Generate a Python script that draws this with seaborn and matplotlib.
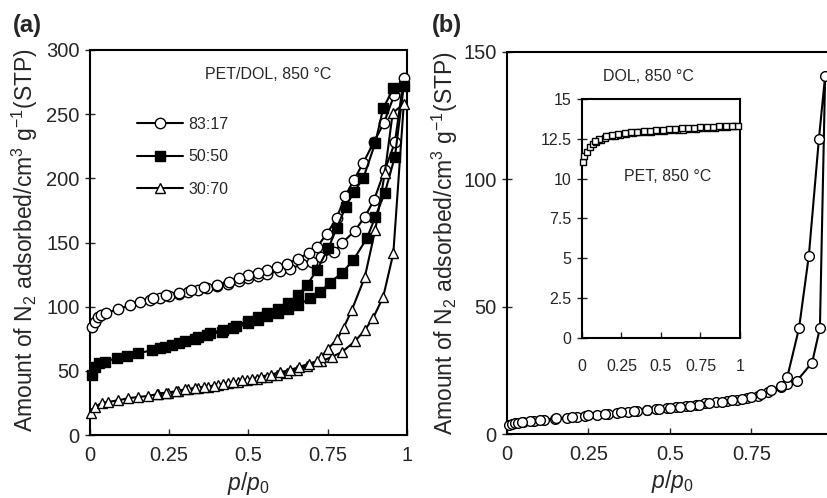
import matplotlib
matplotlib.use("Agg")
import matplotlib.pyplot as plt
import seaborn as sns

# ---- panel (a): PET/DOL blends, adsorption + desorption branches ----
p_ads_8317 = [0.006, 0.016, 0.025, 0.035, 0.05, 0.088, 0.126, 0.158, 0.19, 0.22, 0.25, 0.28,
              0.31, 0.34, 0.37, 0.40, 0.435, 0.47, 0.50, 0.53, 0.56, 0.60, 0.63, 0.67, 0.70,
              0.73, 0.77, 0.795, 0.835, 0.867, 0.896, 0.93, 0.962, 0.99]
v_ads_8317 = [84, 88, 92, 93.5, 95, 98, 101, 103.5, 105, 107, 108, 110,
              111.5, 113, 114.5, 116, 118, 120, 122, 124, 125.5, 128, 129.5, 133, 135,
              138.5, 142.5, 149.5, 159, 170, 183, 206.5, 228, 278]
p_des_8317 = [0.96, 0.927, 0.895, 0.862, 0.833, 0.805, 0.778, 0.748, 0.716, 0.69, 0.655, 0.62,
              0.59, 0.56, 0.53, 0.50, 0.47, 0.44, 0.40, 0.36, 0.32, 0.28, 0.24, 0.20]
v_des_8317 = [265, 243, 228, 212, 199, 186, 169, 157, 146.5, 141.5, 137.5, 133,
              131, 128.5, 126, 124.5, 122, 119.5, 117, 115, 113, 111, 109, 107]

p_ads_5050 = [0.006, 0.016, 0.03, 0.047, 0.085, 0.117, 0.15, 0.195, 0.236, 0.28, 0.33, 0.37,
              0.415, 0.45, 0.50, 0.53, 0.56, 0.594, 0.625, 0.656, 0.694, 0.726, 0.757, 0.795,
              0.83, 0.874, 0.90, 0.93, 0.962, 0.99]
v_ads_5050 = [46.8, 53, 56, 57, 60, 61.6, 63.6, 66, 68.6, 71.7, 75, 78,
              80.5, 83, 87, 90, 92.5, 95, 98, 101, 106.5, 111.6, 118.6, 126.4,
              136, 153.5, 170, 188.6, 217, 272]
p_des_5050 = [0.957, 0.925, 0.90, 0.862, 0.833, 0.807, 0.778, 0.752, 0.716, 0.685, 0.656, 0.625,
              0.594, 0.56, 0.53, 0.50, 0.46, 0.42, 0.38, 0.34, 0.30, 0.26, 0.22]
v_des_5050 = [270, 254.6, 227.6, 200, 189.6, 178, 161, 145.6, 128.6, 117, 109, 103,
              98, 95, 92, 89, 85, 82, 79.5, 76.5, 73.5, 70.5, 68]

p_ads_3070 = [0.003, 0.016, 0.037, 0.056, 0.088, 0.12, 0.15, 0.183, 0.215, 0.246, 0.277, 0.31,
              0.34, 0.372, 0.404, 0.435, 0.468, 0.495, 0.527, 0.558, 0.59, 0.62, 0.652, 0.684,
              0.73, 0.763, 0.795, 0.836, 0.867, 0.893, 0.925, 0.957, 0.99]
v_ads_3070 = [17, 21.8, 25, 25.7, 27, 28.6, 29.6, 30.4, 32, 32.7, 34, 35.5,
              36.6, 37.4, 39, 40.5, 41.5, 42.5, 44, 45.5, 47, 48.5, 51, 53.5,
              57.5, 60.8, 64.7, 73, 81.8, 91, 107.6, 141.6, 258]
p_des_3070 = [0.955, 0.93, 0.90, 0.867, 0.826, 0.80, 0.78, 0.75, 0.73, 0.715, 0.69, 0.66,
              0.63, 0.60, 0.57, 0.54, 0.51, 0.48, 0.45, 0.42, 0.39, 0.36, 0.33, 0.30, 0.27,
              0.24, 0.21]
v_des_3070 = [251, 204, 160, 123, 97.4, 83.4, 74.8, 67, 61, 57.5, 55.5, 53,
              50.5, 49, 47, 45.5, 44, 42.5, 41, 40, 38.5, 37.5, 36.5, 35.5, 34,
              33, 32]

# ---- panel (b): DOL main plot ----
p_ads_dol = [0.006, 0.015, 0.025, 0.035, 0.05, 0.083, 0.115, 0.147, 0.184, 0.215, 0.24, 0.276,
             0.31, 0.337, 0.37, 0.40, 0.43, 0.457, 0.49, 0.52, 0.55, 0.58, 0.607, 0.64,
             0.674, 0.705, 0.735, 0.77, 0.80, 0.84, 0.86, 0.89, 0.936, 0.96, 0.976]
v_ads_dol = [3.5, 4.0, 4.3, 4.5, 4.8, 5.1, 5.5, 5.9, 6.3, 6.7, 7.0, 7.6,
             8.0, 8.3, 8.7, 9.0, 9.4, 9.8, 10.2, 10.6, 11.0, 11.5, 12.0, 12.5,
             13.0, 13.5, 14.0, 15.0, 16.3, 18.5, 19.5, 21, 28, 41.6, 140.6]
p_des_dol = [0.957, 0.926, 0.896, 0.86, 0.84, 0.81, 0.78, 0.75, 0.72, 0.69, 0.66, 0.62,
             0.59, 0.56, 0.53, 0.50, 0.465, 0.43, 0.39, 0.35, 0.30, 0.25, 0.20, 0.15,
             0.10, 0.07, 0.045]
v_des_dol = [116, 70, 41.6, 22.4, 19, 17.2, 15.8, 14.6, 13.8, 13.2, 12.6, 12.0,
             11.5, 11.1, 10.7, 10.3, 9.9, 9.5, 9.0, 8.6, 8.0, 7.3, 6.7, 6.1,
             5.5, 5.1, 4.8]

# ---- panel (b) inset: PET ----
p_ads_pet = [0.006, 0.015, 0.03, 0.05, 0.07, 0.088, 0.12, 0.146, 0.18, 0.21, 0.24, 0.28,
             0.32, 0.36, 0.40, 0.44, 0.48, 0.52, 0.56, 0.60, 0.64, 0.68, 0.72, 0.76,
             0.80, 0.84, 0.88, 0.92, 0.96, 0.99]
v_ads_pet = [11.05, 11.4, 11.7, 12.0, 12.15, 12.3, 12.45, 12.55, 12.65, 12.7, 12.75, 12.8,
             12.85, 12.9, 12.92, 12.95, 12.98, 13.0, 13.03, 13.05, 13.08, 13.1, 13.13, 13.15,
             13.18, 13.2, 13.23, 13.26, 13.28, 13.3]
p_des_pet = [0.95, 0.91, 0.87, 0.83, 0.79, 0.75, 0.71, 0.67, 0.63, 0.59, 0.55, 0.51,
             0.47, 0.43, 0.39, 0.35, 0.31, 0.27, 0.23, 0.19, 0.15, 0.11, 0.08]
v_des_pet = [13.32, 13.3, 13.28, 13.26, 13.24, 13.22, 13.2, 13.18, 13.15, 13.12, 13.1, 13.07,
             13.04, 13.0, 12.97, 12.93, 12.9, 12.85, 12.8, 12.72, 12.65, 12.5, 12.35]

x_ticks = [0, 0.25, 0.5, 0.75, 1]
x_tick_labels = ["0", "0.25", "0.5", "0.75", "1"]
inset_y_ticks = [0, 2.5, 5, 7.5, 10, 12.5, 15]
inset_y_labels = ["0", "2.5", "5", "7.5", "10", "12.5", "15"]

sns.set_style("ticks")
plt.rcParams["font.family"] = ["Liberation Sans", "DejaVu Sans"]
plt.rcParams["mathtext.fontset"] = "custom"
plt.rcParams["mathtext.rm"] = "Liberation Sans"
plt.rcParams["mathtext.it"] = "Liberation Sans:italic"
plt.rcParams["axes.linewidth"] = 1.5

YLABEL = "Amount of N$_2$ adsorbed/cm$^3$ g$^{-1}$(STP)"
TICK_FS = 14.5
LABEL_FS = 16.5
NOTE_FS = 11.5


def isotherm(ax, p_ads, v_ads, p_des, v_des, marker, face, ms, label=None, lw=1.5):
    sns.lineplot(x=p_ads + p_des, y=v_ads + v_des, sort=False, estimator=None, ax=ax,
                 color="black", lw=lw, marker=marker, markersize=ms,
                 markerfacecolor=face, markeredgecolor="black", markeredgewidth=1,
                 label=label, clip_on=False, zorder=3)


def style_axes(ax, fs=TICK_FS, xpad=8, ypad=4):
    for s in ax.spines.values():
        s.set_visible(True)
        s.set_linewidth(1.5)
        s.set_color("black")
    ax.tick_params(axis="x", direction="in", length=4, width=1, labelsize=fs, pad=xpad)
    ax.tick_params(axis="y", direction="inout", length=7, width=1, labelsize=fs, pad=ypad)


fig = plt.figure(figsize=(8.27, 4.98), dpi=100)

# (a)
ax1 = fig.add_axes([0.1088, 0.1265, 0.3833, 0.7731])
isotherm(ax1, p_ads_8317, v_ads_8317, p_des_8317, v_des_8317, "o", "white", 7.5, "83:17")
isotherm(ax1, p_ads_5050, v_ads_5050, p_des_5050, v_des_5050, "s", "black", 7, "50:50")
isotherm(ax1, p_ads_3070, v_ads_3070, p_des_3070, v_des_3070, "^", "white", 7.5, "30:70")
ax1.set_xlim(0, 1)
ax1.set_ylim(0, 300)
ax1.set_xticks(x_ticks, x_tick_labels)
ax1.set_yticks(range(0, 301, 50))
style_axes(ax1)
ax1.set_xlabel("$\\it{p}/\\it{p}_0$", fontsize=LABEL_FS)
ax1.xaxis.set_label_coords(0.5, -0.09)
ax1.set_ylabel(YLABEL, fontsize=LABEL_FS)
ax1.yaxis.set_label_coords(-0.158, 0.505)
ax1.text(0.5615, 0.937, "PET/DOL, 850 °C", transform=ax1.transAxes, ha="center", va="center",
         fontsize=NOTE_FS)
ax1.legend(loc="upper left", bbox_to_anchor=(0.148, 0.827), frameon=False, fontsize=NOTE_FS,
           handlelength=2.9, handletextpad=0.3, labelspacing=1.1, borderpad=0,
           borderaxespad=0)

# (b)
ax2 = fig.add_axes([0.613, 0.1285, 0.3942, 0.7671])
isotherm(ax2, p_ads_dol, v_ads_dol, p_des_dol, v_des_dol, "o", "white", 7)
ax2.set_xlim(0, 1)
ax2.set_ylim(0, 150)
ax2.set_xticks(x_ticks, x_tick_labels)
ax2.set_yticks([0, 50, 100, 150])
style_axes(ax2)
ax2.set_xlabel("$\\it{p}/\\it{p}_0$", fontsize=LABEL_FS)
ax2.xaxis.set_label_coords(0.508, -0.09)
ax2.set_ylabel(YLABEL, fontsize=LABEL_FS)
ax2.yaxis.set_label_coords(-0.144, 0.5)
ax2.text(0.4325, 0.935, "DOL, 850 °C", transform=ax2.transAxes, ha="center", va="center",
         fontsize=NOTE_FS)

# inset
ax3 = fig.add_axes([0.7037, 0.3213, 0.1911, 0.4799])
isotherm(ax3, p_ads_pet, v_ads_pet, p_des_pet, v_des_pet, "s", "white", 4.5, lw=1)
ax3.set_xlim(0, 1)
ax3.set_ylim(0, 15)
ax3.set_xticks(x_ticks, x_tick_labels)
ax3.set_yticks(inset_y_ticks, inset_y_labels)
style_axes(ax3, fs=11.5, xpad=15, ypad=4)
ax3.set_xlabel("")
ax3.set_ylabel("")
ax3.text(0.544, 0.674, "PET, 850 °C", transform=ax3.transAxes, ha="center", va="center",
         fontsize=NOTE_FS)

fig.text(0.0326, 0.948, "(a)", fontsize=17, fontweight="bold", ha="center", va="center")
fig.text(0.5405, 0.948, "(b)", fontsize=17, fontweight="bold", ha="center", va="center")

fig.savefig("out.png", dpi=100)
